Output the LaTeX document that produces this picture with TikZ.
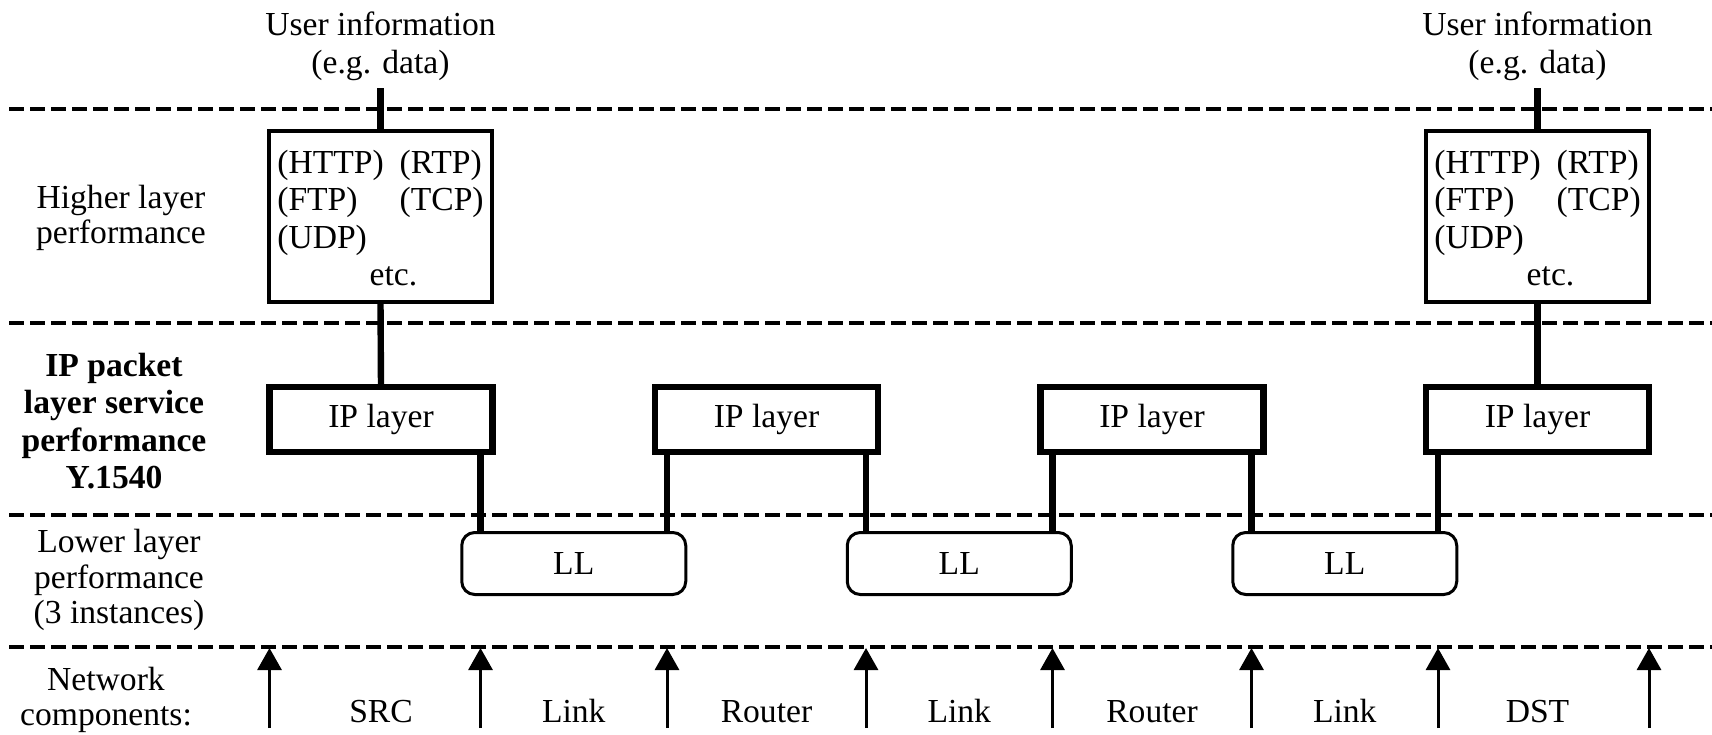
\documentclass[tikz,border=0pt]{standalone}
\usepackage{fontspec}
\setmainfont{Liberation Serif}
\usetikzlibrary{arrows.meta}
\tikzstyle{layersep} = [line width=1.8pt, dash pattern=on 7.5pt off 3pt]
\tikzstyle{hlbox} = [draw, line width=2pt, outer sep=0pt, inner sep=0pt, minimum width=111.5pt, minimum height=85.5pt]
\tikzstyle{iplayer} = [draw, line width=3.2pt, outer sep=0pt, minimum width=111.5pt, minimum height=32.5pt]
\tikzstyle{llbox} = [draw, line width=1.5pt, rounded corners=6.5pt, outer sep=0pt, minimum width=112pt, minimum height=31pt]
\tikzstyle{ipwire} = [line width=3.2pt]
\tikzstyle{netarrow} = [line width=1.5pt, -{Triangle[length=11pt,width=12pt]}]
\tikzstyle{userinfo} = [align=center, anchor=south, inner sep=3.5pt]
\tikzstyle{layername} = [align=center, inner sep=0pt, font=\fontsize{16.8}{17.6}\selectfont]
\tikzstyle{netcomp} = [anchor=base, inner sep=0pt]
\newcommand{\protocols}{\begin{tabular}{@{}l@{\hspace{8pt}}l@{}}\noalign{\vskip5.5pt}(HTTP)&(RTP)\\(FTP)&(TCP)\\(UDP)&\\\multicolumn{2}{@{}c@{}}{\hspace{13pt}etc.}\end{tabular}}

\begin{document}
\begin{tikzpicture}[x=0.5pt,y=-0.5pt,every node/.style={font=\fontsize{16.8}{18.8}\selectfont}]
	\useasboundingbox (0,0) rectangle (1712,734);
	\foreach \y in {109,323,515,647} \draw[layersep] (9,\y) -- (1712,\y);
	\coordinate (net) at (0,648);
	\coordinate (bot) at (0,728);
	\node[layername] (higher) at (121,218) {Higher layer\\performance};
	\node[layername,font=\fontsize{16.8}{18.8}\selectfont\bfseries] (ippacket) at (114,421) {IP packet\\layer service\\performance\\Y.1540};
	\node[layername] (lower) at (119,580) {Lower layer\\performance\\(3 instances)};
	\node[layername] (network) at (106,700) {Network\\components:};
	\node[userinfo] (user1) at (380.5,88) {User information\\(e.g. data)};
	\node[userinfo] (user2) at (1537.5,88) {User information\\(e.g. data)};
	\node[hlbox] (hl1) at (380.5,216.5) {\protocols};
	\node[hlbox] (hl2) at (1537.5,216.5) {\protocols};
	\foreach \i/\x in {1/381,2/766.5,3/1152,4/1537.5} \node[iplayer] (ip\i) at (\x,419.5) {IP layer};
	\foreach \i/\x in {1/573.75,2/959.25,3/1344.75} \node[llbox] (ll\i) at (\x,563.5) {LL};
	\draw[ipwire] (user1.south) -- (hl1.north);
	\draw[ipwire] (hl1.south) -- (ip1.north);
	\draw[ipwire] (user2.south) -- (hl2.north);
	\draw[ipwire] (hl2.south) -- (ip4.north);
	\draw[ipwire] ([xshift=-6pt]ip1.south east) coordinate (c1) -- (c1 |- ll1.north);
	\draw[ipwire] ([xshift=6pt]ip2.south west) coordinate (c2) -- (c2 |- ll1.north);
	\draw[ipwire] ([xshift=-6pt]ip2.south east) coordinate (c3) -- (c3 |- ll2.north);
	\draw[ipwire] ([xshift=6pt]ip3.south west) coordinate (c4) -- (c4 |- ll2.north);
	\draw[ipwire] ([xshift=-6pt]ip3.south east) coordinate (c5) -- (c5 |- ll3.north);
	\draw[ipwire] ([xshift=6pt]ip4.south west) coordinate (c6) -- (c6 |- ll3.north);
	\foreach \p in {ip1.south west,c1,c2,c3,c4,c5,c6,ip4.south east} \draw[netarrow] (\p |- bot) -- (\p |- net);
	\foreach \n/\x/\t in {src/381/SRC,link1/573.75/Link,router1/766.5/Router,link2/959.25/Link,router2/1152/Router,link3/1344.75/Link,dst/1537.5/DST} \node[netcomp] (\n) at (\x,722) {\t};
\end{tikzpicture}
\end{document}
